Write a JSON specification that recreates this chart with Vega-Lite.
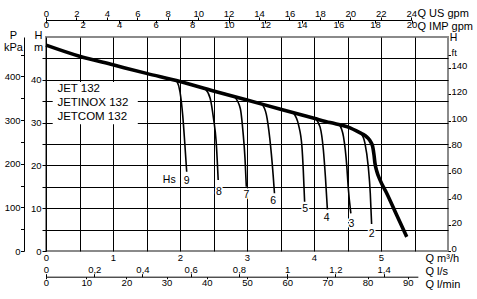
{
"$schema":"https://vega.github.io/schema/vega-lite/v6.json",
"width":402,"height":214,
"autosize":{"type":"none"},
"padding":{"left":46,"top":37,"right":29,"bottom":48},
"background":"white",
"config":{
 "view":{"stroke":"#8a8a8a","strokeWidth":2},
 "font":"Liberation Sans",
 "text":{"font":"Liberation Sans"},
 "axis":{"labelFont":"Liberation Sans","titleFont":"Liberation Sans","labelColor":"#000","titleColor":"#000","tickColor":"#000","domainColor":"#000","labelFontSize":9.5,"titleFontSize":11,"titleFontWeight":"normal","labelOverlap":false,"labelFlush":false,"labelBound":false,"grid":false,"zindex":1,"tickWidth":1,"domainWidth":1}
},
"datasets":{
 "ax":[{"v":0}],
 "box":[{"q1":0.1,"q2":1.37,"h1":29.6,"h2":39.5}],
 "main":[
  {"q":0,"h":48.1},{"q":0.5,"h":45.5},{"q":1.0,"h":43.5},{"q":1.5,"h":41.5},{"q":2.0,"h":39.6},{"q":2.5,"h":37.4},{"q":3.0,"h":35.3},{"q":3.5,"h":33.1},{"q":4.0,"h":31.0},{"q":4.24,"h":30.0},{"q":4.5,"h":29.0},{"q":4.69,"h":27.6},{"q":4.76,"h":27.0},{"q":4.81,"h":26.3},{"q":4.846,"h":25.5},{"q":4.876,"h":24.4},{"q":4.896,"h":22.4},{"q":4.91,"h":20.5},{"q":4.936,"h":18.7},{"q":4.985,"h":16.6},{"q":5.085,"h":13.5},{"q":5.234,"h":8.4},{"q":5.384,"h":3.3}
 ],
 "hs":[
  {"c":"9","q":1.95,"h":39.8},{"c":"9","q":2.0,"h":37.2},{"c":"9","q":2.04,"h":31.8},{"c":"9","q":2.07,"h":25.5},{"c":"9","q":2.10,"h":18.5},
  {"c":"8","q":2.38,"h":37.8},{"c":"8","q":2.45,"h":35.7},{"c":"8","q":2.50,"h":31.0},{"c":"8","q":2.54,"h":25.5},{"c":"8","q":2.57,"h":16.6},
  {"c":"7","q":2.81,"h":36.1},{"c":"7","q":2.90,"h":33.3},{"c":"7","q":2.94,"h":27.9},{"c":"7","q":2.97,"h":21.7},{"c":"7","q":2.99,"h":15.0},
  {"c":"6","q":3.22,"h":34.4},{"c":"6","q":3.29,"h":31.8},{"c":"6","q":3.34,"h":26.3},{"c":"6","q":3.39,"h":17.8},{"c":"6","q":3.41,"h":13.5},
  {"c":"5","q":3.69,"h":32.3},{"c":"5","q":3.77,"h":29.4},{"c":"5","q":3.82,"h":24.4},{"c":"5","q":3.84,"h":18.9},{"c":"5","q":3.86,"h":11.5},
  {"c":"4","q":4.02,"h":30.9},{"c":"4","q":4.09,"h":29.0},{"c":"4","q":4.14,"h":23.6},{"c":"4","q":4.17,"h":17.4},{"c":"4","q":4.20,"h":9.7},
  {"c":"3","q":4.38,"h":29.5},{"c":"3","q":4.44,"h":26.7},{"c":"3","q":4.49,"h":19.7},{"c":"3","q":4.51,"h":15.0},{"c":"3","q":4.55,"h":8.8},
  {"c":"2","q":4.70,"h":27.5},{"c":"2","q":4.76,"h":25.2},{"c":"2","q":4.81,"h":19.7},{"c":"2","q":4.84,"h":13.5},{"c":"2","q":4.86,"h":6.3}
 ],
 "lbl":[
  {"t":"Hs","q":1.84,"h":16.5},{"t":"9","q":2.10,"h":16.4},{"t":"8","q":2.58,"h":13.7},{"t":"7","q":2.99,"h":13.2},{"t":"6","q":3.39,"h":11.7},{"t":"5","q":3.87,"h":9.9},{"t":"4","q":4.19,"h":7.8},{"t":"3","q":4.56,"h":6.4},{"t":"2","q":4.86,"h":4.0}
 ],
 "models":[
  {"t":"JET 132","q":0.17,"h":37.1},{"t":"JETINOX 132","q":0.17,"h":33.8},{"t":"JETCOM 132","q":0.17,"h":30.6}
 ]
},
"layer":[
 {"data":{"name":"ax"},"mark":{"type":"point","opacity":0},
  "encoding":{
   "x":{"field":"v","type":"quantitative","scale":{"domain":[0,6],"nice":false},"axis":{"values":[0.5,1,1.5,2,2.5,3,3.5,4,4.5,5,5.5],"grid":true,"gridColor":"#000","gridWidth":1,"gridOpacity":1,"labels":false,"ticks":false,"domain":false,"title":null,"zindex":0}},
   "y":{"field":"v","type":"quantitative","scale":{"domain":[0,50],"nice":false},"axis":{"values":[5,10,15,20,25,30,35,40,45],"grid":true,"gridColor":"#000","gridWidth":1,"gridOpacity":1,"labels":false,"ticks":false,"domain":false,"title":null,"zindex":0}}
  }},
 {"data":{"name":"box"},"mark":{"type":"rect","fill":"white","stroke":null},
  "encoding":{
   "x":{"field":"q1","type":"quantitative","scale":{"domain":[0,6],"nice":false,"zero":false},"axis":null},
   "x2":{"field":"q2"},
   "y":{"field":"h1","type":"quantitative","scale":{"domain":[0,50],"nice":false,"zero":false},"axis":null},
   "y2":{"field":"h2"}
  }},
 {"data":{"name":"hs"},"mark":{"type":"line","interpolate":"monotone","color":"#000","strokeWidth":1.6},
  "encoding":{
   "x":{"field":"q","type":"quantitative","scale":{"domain":[0,6],"nice":false,"zero":false},"axis":null},
   "y":{"field":"h","type":"quantitative","scale":{"domain":[0,50],"nice":false,"zero":false},"axis":null},
   "detail":{"field":"c","type":"nominal"}
  }},
 {"data":{"name":"main"},"mark":{"type":"line","interpolate":"monotone","color":"#000","strokeWidth":3.6},
  "encoding":{
   "x":{"field":"q","type":"quantitative","scale":{"domain":[0,6],"nice":false,"zero":false},"axis":null},
   "y":{"field":"h","type":"quantitative","scale":{"domain":[0,50],"nice":false,"zero":false},"axis":null}
  }},
 {"data":{"name":"lbl"},"mark":{"type":"text","fontSize":10.5,"align":"center","baseline":"middle","fill":"white","stroke":"white","strokeWidth":3,"strokeJoin":"round"},
  "encoding":{
   "x":{"field":"q","type":"quantitative","scale":{"domain":[0,6],"nice":false,"zero":false},"axis":null},
   "y":{"field":"h","type":"quantitative","scale":{"domain":[0,50],"nice":false,"zero":false},"axis":null},
   "text":{"field":"t"}
  }},
 {"data":{"name":"lbl"},"mark":{"type":"text","fontSize":10.5,"align":"center","baseline":"middle","fill":"#000"},
  "encoding":{
   "x":{"field":"q","type":"quantitative","scale":{"domain":[0,6],"nice":false,"zero":false},"axis":null},
   "y":{"field":"h","type":"quantitative","scale":{"domain":[0,50],"nice":false,"zero":false},"axis":null},
   "text":{"field":"t"}
  }},
 {"data":{"name":"models"},"mark":{"type":"text","fontSize":11.5,"align":"left","baseline":"alphabetic","fill":"#000"},
  "encoding":{
   "x":{"field":"q","type":"quantitative","scale":{"domain":[0,6],"nice":false,"zero":false},"axis":null},
   "y":{"field":"h","type":"quantitative","scale":{"domain":[0,50],"nice":false,"zero":false},"axis":null},
   "text":{"field":"t"}
  }},
 {"data":{"name":"ax"},"mark":{"type":"point","opacity":0},
  "encoding":{"y":{"field":"v","type":"quantitative","scale":{"domain":[0,50],"nice":false},
   "axis":{"orient":"left","offset":0,"values":[0,5,10,15,20,25,30,35,40,45],"labelExpr":"datum.value % 10 === 0 ? datum.label : ''","tickSize":4,"labelPadding":1,"domain":true,"domainColor":"#000","labelBaseline":"middle",
    "title":["H","m"],"titleAngle":0,"titleAlign":"center","titleBaseline":"alphabetic","titleX":-8,"titleY":1,"titleLineHeight":12.5}}}},
 {"data":{"name":"ax"},"mark":{"type":"point","opacity":0},
  "encoding":{"y":{"field":"v","type":"quantitative","scale":{"domain":[0,490.33],"nice":false},
   "axis":{"orient":"left","offset":22,"values":[0,50,100,150,200,250,300,350,400,450],"labelExpr":"datum.value % 100 === 0 ? datum.label : ''","tickSize":3.5,"labelPadding":0.5,"domain":true,"labelBaseline":"middle",
    "title":["P","kPa"],"titleAngle":0,"titleAlign":"center","titleBaseline":"alphabetic","titleX":-11,"titleY":1,"titleLineHeight":12.5}}}},
 {"data":{"name":"ax"},"mark":{"type":"point","opacity":0},
  "encoding":{"y":{"field":"v","type":"quantitative","scale":{"domain":[0,164.04],"nice":false},
   "axis":{"orient":"right","offset":0,"values":[0,20,40,60,80,100,120,140,150],"labelExpr":"datum.value === 150 ? 'ft' : datum.label","tickSize":2.5,"labelPadding":0.5,"domain":false,"labelBaseline":"alphabetic","labelAlign":"left","labelOffset":0.5,
    "title":"H","titleFontSize":10.5,"titleAngle":0,"titleAlign":"left","titleBaseline":"alphabetic","titleX":1.3,"titleY":3.5}}}},
 {"data":{"name":"ax"},"mark":{"type":"point","opacity":0},
  "encoding":{"x":{"field":"v","type":"quantitative","scale":{"domain":[0,24],"range":[0,365.2],"nice":false},
   "axis":{"orient":"top","offset":17,"values":[0,2,4,6,8,10,12,14,16,18,20,22,24],"tickSize":3,"labelPadding":0.5,"domain":true,"labelBaseline":"alphabetic",
    "title":"Q US gpm","titleAlign":"left","titleBaseline":"alphabetic","titleX":371,"titleY":-3.3}}}},
 {"data":{"name":"ax"},"mark":{"type":"point","opacity":0},
  "encoding":{"x":{"field":"v","type":"quantitative","scale":{"domain":[0,20],"range":[0,365.5],"nice":false},
   "axis":{"orient":"bottom","offset":-231,"values":[0,2,4,6,8,10,12,14,16,18,20],"tickSize":3,"labelPadding":-3.5,"domain":false,"labelBaseline":"top",
    "title":"Q IMP gpm","titleAlign":"left","titleBaseline":"alphabetic","titleX":371,"titleY":9.5}}}},
 {"data":{"name":"ax"},"mark":{"type":"point","opacity":0},
  "encoding":{"x":{"field":"v","type":"quantitative","scale":{"domain":[0,6],"nice":false},
   "axis":{"orient":"bottom","offset":0,"values":[0,1,2,3,4,5],"ticks":false,"tickSize":0,"labelPadding":1,"domain":false,"labelBaseline":"top",
    "title":"Q m³/h","titleAlign":"left","titleBaseline":"alphabetic","titleX":379,"titleY":10.5}}}},
 {"data":{"name":"ax"},"mark":{"type":"point","opacity":0},
  "encoding":{"x":{"field":"v","type":"quantitative","scale":{"domain":[0,1.5],"range":[0,361.8],"nice":false},
   "axis":{"orient":"top","offset":-239.7,"values":[0,0.2,0.4,0.6,0.8,1,1.2,1.4],"format":"~g","labelExpr":"replace(datum.label, '.', ',')","tickSize":3,"labelPadding":1.5,"domain":false,"labelBaseline":"alphabetic",
    "title":"Q l/s","titleAlign":"left","titleBaseline":"alphabetic","titleX":379,"titleY":-2.5}}}},
 {"data":{"name":"ax"},"mark":{"type":"point","opacity":0},
  "encoding":{"x":{"field":"v","type":"quantitative","scale":{"domain":[0,92.5],"range":[0,371.85],"nice":false},
   "axis":{"orient":"bottom","offset":25.7,"values":[0,10,20,30,40,50,60,70,80,90],"tickSize":2,"labelPadding":-1,"domain":true,"labelBaseline":"top",
    "title":"Q l/min","titleAlign":"left","titleBaseline":"alphabetic","titleX":379,"titleY":10.6}}}}
],
"resolve":{"scale":{"x":"independent","y":"independent"}}
}
